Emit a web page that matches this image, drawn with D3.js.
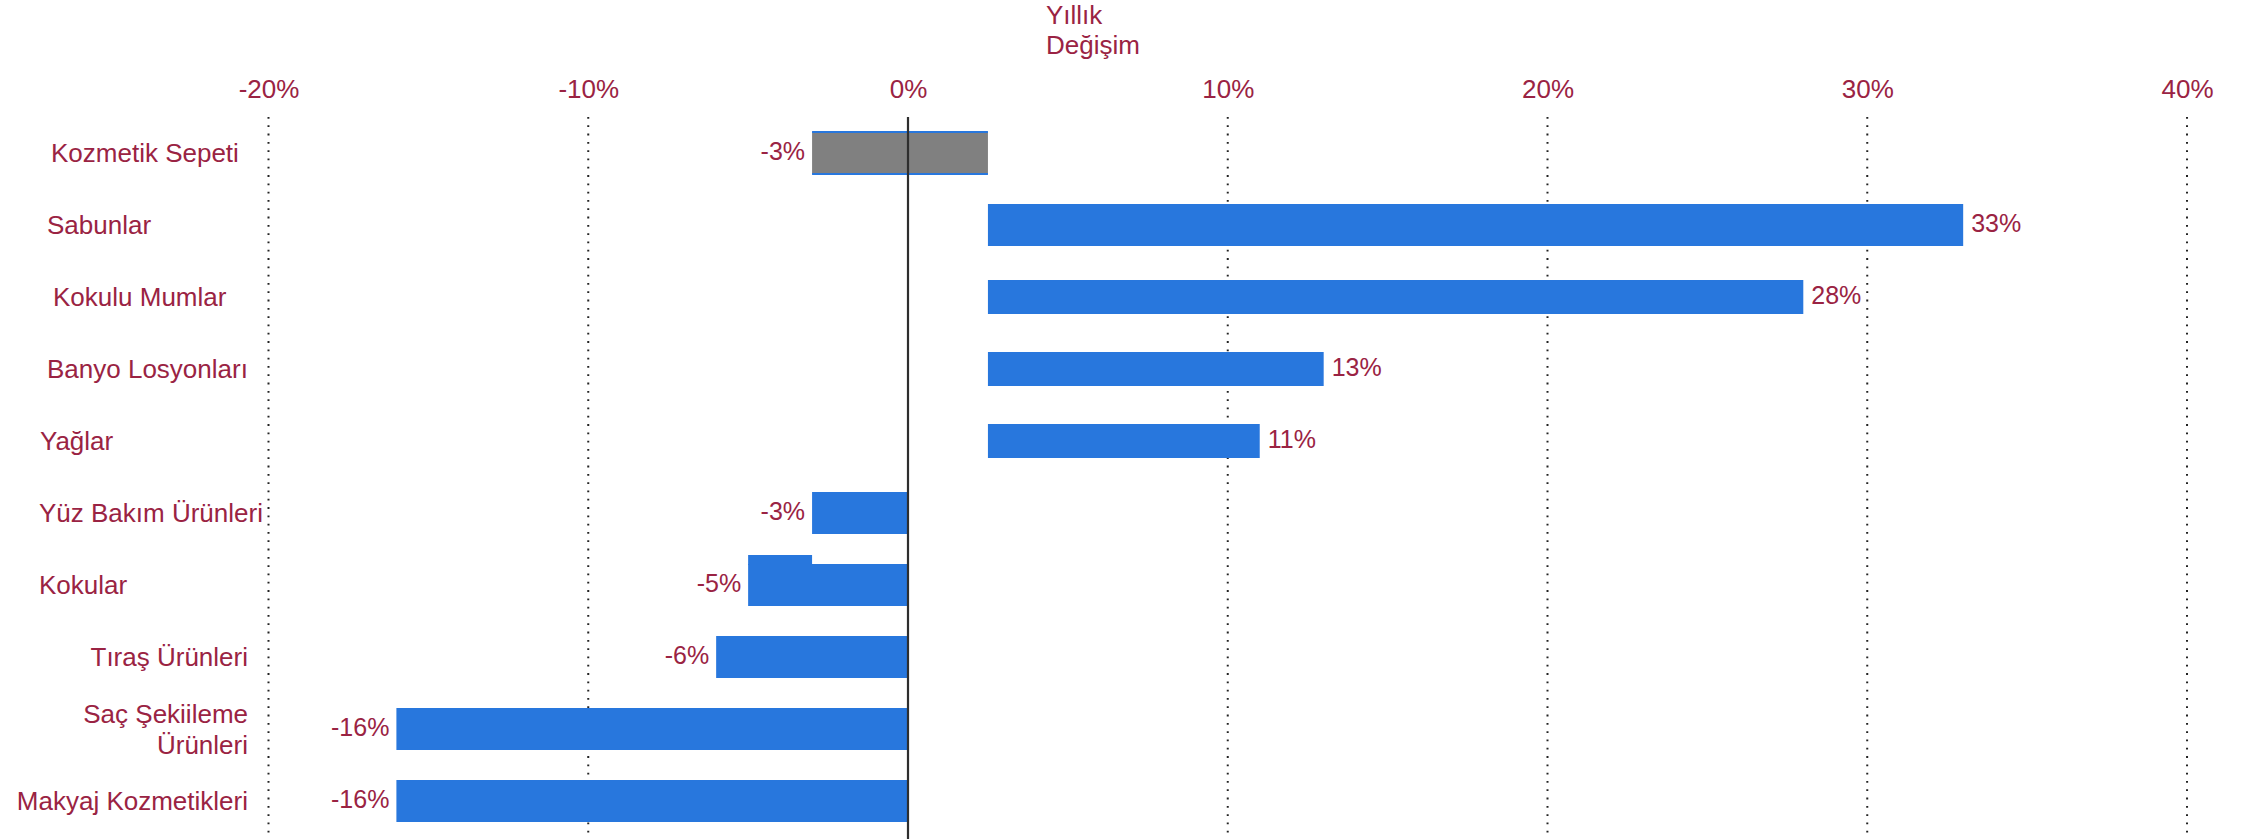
<!DOCTYPE html>
<html lang="tr">
<head>
<meta charset="utf-8">
<script src="https://cdn.jsdelivr.net/npm/d3@7"></script>
<style>
  html, body { margin: 0; padding: 0; background: #fff; }
  svg { display: block; }
  text { font-family: "Liberation Sans", Arial, sans-serif; fill: #9A2343; }
</style>
</head>
<body>
<svg id="chart" width="2264" height="839"></svg>
<script>
// Yıllık değişim (%) by product group
const categories = [
  "Kozmetik Sepeti", "Sabunlar", "Kokulu Mumlar", "Banyo Losyonları", "Yağlar",
  "Yüz Bakım Ürünleri", "Kokular", "Tıraş Ürünleri", "Saç Şekiileme Ürünleri", "Makyaj Kozmetikleri"
];
const changes = [-3, 33, 28, 13, 11, -3, -5, -6, -16, -16];
const positiveBase = 2.5;            // positive bars start from this level
const tickValues = [-20, -10, 0, 10, 20, 30, 40];
const axisTitle = ["Yıllık", "Değişim"];

// label line breaks
const labelLines = {
  "Tıraş Ürünleri": ["Tıraş  Ürünleri"],
  "Saç Şekiileme Ürünleri": ["Saç Şekiileme", "Ürünleri"]
};

const svg = d3.select("#chart");
const BLUE = "#2877DD", GREY = "#808080", TEXT = "#9A2343";
const pct = v => String(v) + "%";

const x = d3.scaleLinear().domain([-20, 40]).range([268.5, 2187]);
const y = d3.scaleBand().domain(categories).range([117, 837])
  .paddingInner(30 / 72).paddingOuter(15 / 72);

const rows = categories.map((c, i) => ({ name: c, value: changes[i], index: i }));

// dotted vertical gridlines
svg.append("g").selectAll("line")
  .data(tickValues.filter(t => t !== 0))
  .join("line")
  .attr("x1", d => x(d)).attr("x2", d => x(d))
  .attr("y1", 117).attr("y2", 839)
  .attr("stroke", "#222").attr("stroke-width", 2)
  .attr("stroke-dasharray", "1.8 6.5");

// top axis tick labels
const axis = svg.append("g").attr("transform", "translate(0,98)")
  .call(d3.axisTop(x).tickValues(tickValues).tickSize(0).tickPadding(0).tickFormat(pct));
axis.select(".domain").remove();
axis.selectAll("text").style("font-size", "26px").attr("fill", TEXT)
  .style("font-family", "'Liberation Sans', Arial, sans-serif");

// axis title
const title = svg.append("text").attr("x", 1046).attr("y", 24).style("font-size", "26px");
axisTitle.forEach((t, i) => title.append("tspan").attr("x", 1046).attr("y", 24 + i * 30).text(t));

// bar geometry
const thinRows = new Set(["Kokulu Mumlar", "Banyo Losyonları", "Yağlar"]);
function barTop(d) { return thinRows.has(d.name) ? y(d.name) + 4 : y(d.name); }
function barH(d) { return thinRows.has(d.name) ? 34 : y.bandwidth(); }

const bars = svg.append("g");

// basket total: grey bar from its value up to the positive base, blue edges
const total = rows[0];
bars.append("rect")
  .attr("x", x(total.value)).attr("width", x(positiveBase) - x(total.value))
  .attr("y", y(total.name)).attr("height", y.bandwidth())
  .attr("fill", GREY);
[0, y.bandwidth()].forEach(off => bars.append("line")
  .attr("x1", x(total.value)).attr("x2", x(positiveBase))
  .attr("y1", y(total.name) + off).attr("y2", y(total.name) + off)
  .attr("stroke", BLUE).attr("stroke-width", 2.2));

const items = rows.slice(1);
bars.selectAll("rect.item")
  .data(items)
  .join("rect")
  .attr("class", "item")
  .attr("x", d => d.value >= 0 ? x(positiveBase) : x(d.value))
  .attr("width", d => d.value >= 0 ? x(d.value) - x(positiveBase) : x(0) - x(d.value))
  .attr("y", barTop)
  .attr("height", barH)
  .attr("fill", BLUE);

// small step above the Kokular bar, spanning to the previous row's level
const kok = rows.find(d => d.name === "Kokular");
const prev = rows[kok.index - 1];
bars.append("rect")
  .attr("x", x(kok.value)).attr("width", x(prev.value) - x(kok.value))
  .attr("y", y(kok.name) - 9).attr("height", 10)
  .attr("fill", BLUE);

// zero line
svg.append("line")
  .attr("x1", x(0)).attr("x2", x(0)).attr("y1", 117).attr("y2", 839)
  .attr("stroke", "#2e2e2e").attr("stroke-width", 2.2);

// value labels
svg.append("g").selectAll("text")
  .data(rows)
  .join("text")
  .attr("x", d => d.value >= 0 ? x(d.value) + 8 : x(d.value) - 7)
  .attr("y", d => barTop(d) + barH(d) / 2 - 2)
  .attr("dy", "0.35em")
  .attr("text-anchor", d => d.value >= 0 ? "start" : "end")
  .style("font-size", "25px")
  .text(d => pct(d.value));

// category labels: first rows start-aligned, last rows end-aligned
const labelStart = {
  "Kozmetik Sepeti": 51, "Sabunlar": 47, "Kokulu Mumlar": 53, "Banyo Losyonları": 47,
  "Yağlar": 40, "Yüz Bakım Ürünleri": 39, "Kokular": 39
};
const catG = svg.append("g");
rows.forEach(d => {
  const lines = labelLines[d.name] || [d.name];
  const cy = y(d.name) + y.bandwidth() / 2;
  const start = labelStart[d.name];
  const right = start === undefined;
  const t = catG.append("text")
    .attr("text-anchor", right ? "end" : "start")
    .style("font-size", "26px");
  lines.forEach((ln, k) => {
    t.append("tspan")
      .attr("x", right ? 248 : start)
      .attr("y", cy + (k - (lines.length - 1) / 2) * 31)
      .attr("dy", "0.35em")
      .text(ln);
  });
});
</script>
</body>
</html>
